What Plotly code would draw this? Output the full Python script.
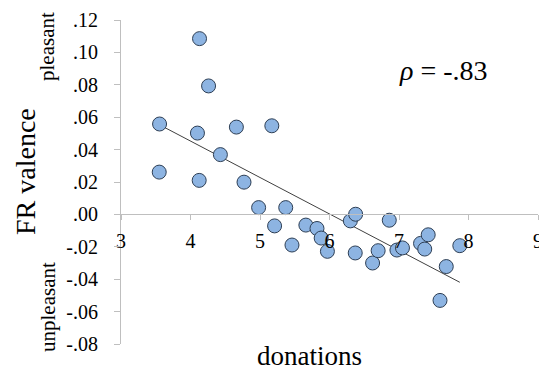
import numpy as np
import plotly.graph_objects as go

donations = [3.555, 3.55, 4.13, 4.10, 4.125, 4.26, 4.43, 4.66, 4.77, 4.98, 5.17, 5.21,
             5.37, 5.46, 5.66, 5.82, 5.88, 5.97, 6.30, 6.376, 6.37, 6.62, 6.70, 6.86,
             6.97, 7.05, 7.31, 7.37, 7.42, 7.59, 7.68, 7.875]
fr_valence = [0.0558, 0.0261, 0.1085, 0.0502, 0.021, 0.0793, 0.0369, 0.0539, 0.0199, 0.0042, 0.0547, -0.0071,
              0.0042, -0.0189, -0.0066, -0.0087, -0.0146, -0.0228, -0.004, 0.0001, -0.0238, -0.030, -0.0224, -0.0036,
              -0.022, -0.0207, -0.0179, -0.0214, -0.0126, -0.0531, -0.0322, -0.0193]

y_tick_vals = [0.12, 0.10, 0.08, 0.06, 0.04, 0.02, 0.00, -0.02, -0.04, -0.06, -0.08]
y_tick_text = [".12", ".10", ".08", ".06", ".04", ".02", ".00", "-.02", "-.04", "-.06", "-.08"]
x_tick_vals = [3, 4, 5, 6, 7, 8, 9]

x_arr = np.array(donations)
y_arr = np.array(fr_valence)
slope, intercept = np.polyfit(x_arr, y_arr, 1)
fit_x = [float(x_arr.min()), float(x_arr.max())]
fit_y = [slope * v + intercept for v in fit_x]

FONT = "'Liberation Serif', 'Times New Roman', Times, serif"
AX = "#BFBFBF"

fig = go.Figure()
fig.add_trace(go.Scatter(x=fit_x, y=fit_y, mode="lines",
                         line=dict(color="#404040", width=1), showlegend=False))
fig.add_trace(go.Scatter(x=donations, y=fr_valence, mode="markers",
                         marker=dict(size=14, color="#8DB4E2",
                                     line=dict(color="#2E3F55", width=1)),
                         showlegend=False))

fig.update_layout(
    width=539, height=373,
    margin=dict(l=121, r=1, t=20, b=29, autoexpand=False),
    paper_bgcolor="white", plot_bgcolor="white",
    font=dict(family=FONT, color="black", size=20),
    xaxis=dict(range=[3, 9], tickvals=x_tick_vals, ticktext=[str(v) for v in x_tick_vals],
               showgrid=False, zeroline=False, showline=True, linecolor=AX, linewidth=1,
               ticks="outside", ticklen=5, tickcolor=AX, anchor="free", position=0.4,
               tickfont=dict(family=FONT, size=20, color="black"), ticklabelstandoff=4,
               ticklabeloverflow="allow", automargin=False),
    yaxis=dict(range=[-0.08, 0.12], tickvals=y_tick_vals, ticktext=y_tick_text,
               showgrid=False, zeroline=False, showline=True, linecolor=AX, linewidth=1,
               ticks="outside", ticklen=6, tickcolor=AX, automargin=False,
               tickfont=dict(family=FONT, size=20, color="black"), ticklabelstandoff=12),
)

W, H, L, B = 417, 324, 121, 29
def px(x):
    return (x - L) / W
def py(y):
    return (373 - B - y) / H

annots = [
    dict(text="FR valence", x=px(25), y=py(172), textangle=-90, size=28),
    dict(text="pleasant", x=px(47), y=py(47), textangle=-90, size=21),
    dict(text="unpleasant", x=px(48), y=py(307), textangle=-90, size=21),
    dict(text="donations", x=px(309), y=py(356), textangle=0, size=27),
    dict(text="<i>ρ</i> = -.83", x=px(443), y=py(70), textangle=0, size=28),
]
for a in annots:
    fig.add_annotation(text=a["text"], x=a["x"], y=a["y"], xref="paper", yref="paper",
                       xanchor="center", yanchor="middle", textangle=a["textangle"],
                       showarrow=False, font=dict(family=FONT, size=a["size"], color="black"))

fig.write_html("out.html")
